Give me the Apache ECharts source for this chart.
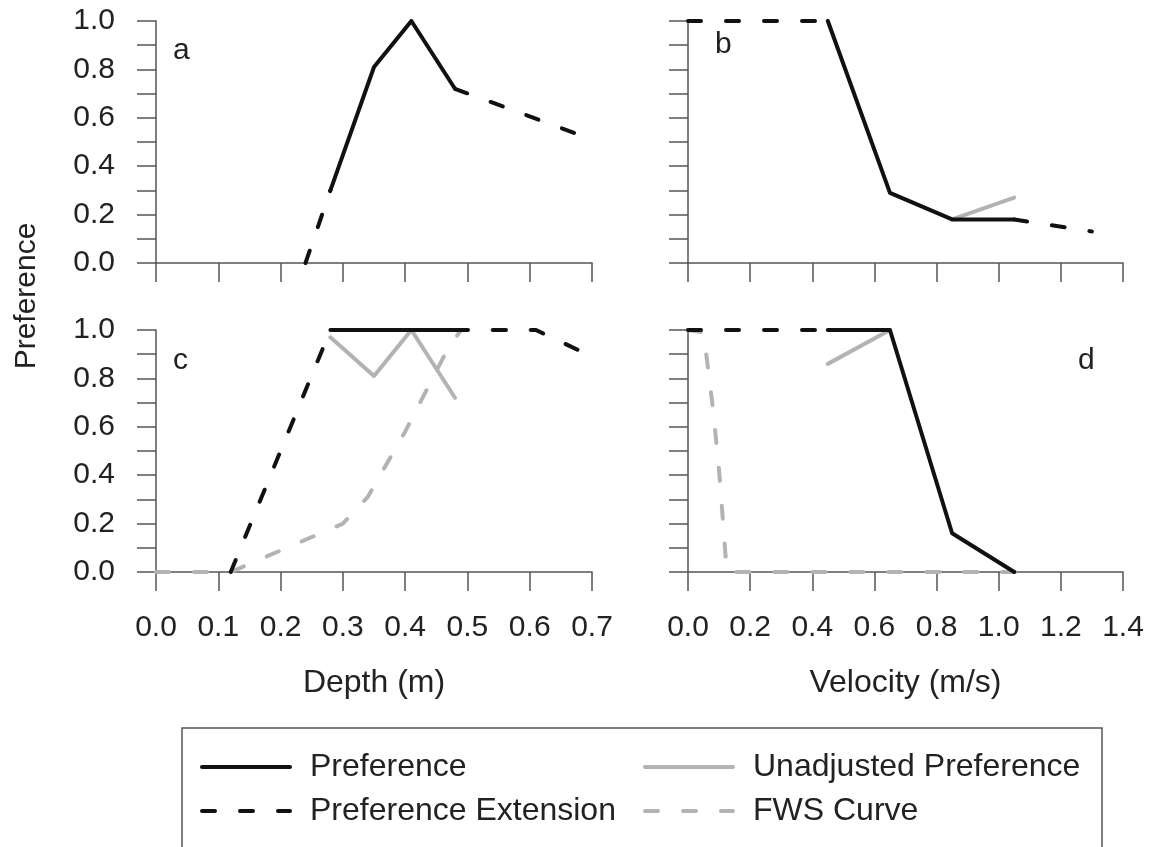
<!DOCTYPE html>
<html>
<head>
<meta charset="utf-8">
<title>Preference curves</title>
<script src="https://cdn.jsdelivr.net/npm/echarts@6/dist/echarts.min.js"></script>
<style>
  html, body { margin: 0; padding: 0; background: #fff; }
  #chart { width: 1151px; height: 847px; }
</style>
</head>
<body>
<div id="chart"></div>
<script>
// values, [x, preference]
// a: depth, habitat preference
var aPref = [[0.28, 0.30], [0.35, 0.81], [0.41, 1.0], [0.48, 0.72]];
var aExtLow = [[0.24, 0], [0.28, 0.30]];
var aExtHigh = [[0.48, 0.72], [0.70, 0.51]];
// b: velocity, habitat preference
var bExtLow = [[0, 1.0], [0.45, 1.0]];
var bPref = [[0.45, 1.0], [0.65, 0.29], [0.85, 0.18], [1.05, 0.18]];
var bExtHigh = [[1.05, 0.18], [1.30, 0.13]];
var bUnadj = [[0.85, 0.18], [1.05, 0.27]];
// c: depth, adjusted preference
var cExtLow = [[0.12, 0], [0.28, 1.0]];
var cPref = [[0.28, 1.0], [0.48, 1.0]];
var cExtHigh = [[0.48, 1.0], [0.61, 1.0], [0.70, 0.89]];
var cUnadj = [[0.28, 0.97], [0.35, 0.81], [0.41, 1.0], [0.48, 0.72]];
var cFws = [[0, 0], [0.12, 0], [0.30, 0.20], [0.34, 0.31], [0.40, 0.58], [0.47, 0.93], [0.49, 1.0], [0.61, 1.0], [0.70, 0.89]];
// d: velocity, adjusted preference
var dExtLow = [[0, 1.0], [0.45, 1.0]];
var dPref = [[0.45, 1.0], [0.65, 1.0], [0.85, 0.16], [1.05, 0]];
var dUnadj = [[0.45, 0.86], [0.65, 1.0]];
var dFws = [[0, 1.0], [0.05, 0.99], [0.08, 0.68], [0.10, 0.42], [0.125, 0], [1.10, 0]];

var panelLetters = ['a', 'b', 'c', 'd'];
var depthMax = 0.7, depthStep = 0.1;
var velMax = 1.4, velStep = 0.2;

var FONT = 'Liberation Sans, Arial, sans-serif';
var AXIS = '#555';
var BLACK = '#111';
var GREY = '#b3b3b3';
var DASH = [13, 25];

var chart = echarts.init(document.getElementById('chart'));

var grids = [
  {left: 156, top: 21, width: 436, height: 242},
  {left: 688, top: 21, width: 435, height: 242},
  {left: 156, top: 330, width: 436, height: 242},
  {left: 688, top: 330, width: 435, height: 242}
];

function xAxisFor(i) {
  var depth = i % 2 === 0;
  var bottom = i >= 2;
  return {
    type: 'value',
    gridIndex: i,
    min: 0,
    max: depth ? depthMax : velMax,
    interval: depth ? depthStep : velStep,
    splitLine: {show: false},
    axisLine: {onZero: false, lineStyle: {color: AXIS, width: 1.5}},
    axisTick: {length: 19, lineStyle: {color: AXIS, width: 1.5}},
    axisLabel: {
      show: bottom,
      margin: 41,
      fontSize: 30,
      fontFamily: FONT,
      color: '#222',
      formatter: function (v) { return v.toFixed(1); }
    },
    name: bottom ? (depth ? 'Depth (m)' : 'Velocity (m/s)') : '',
    nameLocation: 'middle',
    nameGap: 95,
    nameTextStyle: {fontSize: 32, fontFamily: FONT, color: '#222'}
  };
}

function yAxisFor(i) {
  return {
    type: 'value',
    gridIndex: i,
    min: 0,
    max: 1,
    interval: 0.1,
    splitLine: {show: false},
    axisLine: {lineStyle: {color: AXIS, width: 1.5}},
    axisTick: {length: 19, lineStyle: {color: AXIS, width: 1.5}},
    axisLabel: {
      show: i % 2 === 0,
      margin: 41,
      fontSize: 30,
      fontFamily: FONT,
      color: '#222',
      formatter: function (v) {
        var k = Math.round(v * 10);
        return k % 2 === 0 ? (k / 10).toFixed(1) : '';
      }
    }
  };
}

function line(name, data, panel, color, dashed, z) {
  return {
    type: 'line',
    name: name,
    xAxisIndex: panel,
    yAxisIndex: panel,
    data: data,
    symbol: 'none',
    z: z,
    lineStyle: {
      color: color,
      width: 4,
      type: dashed ? DASH : 'solid',
      cap: 'round',
      join: 'round'
    },
    itemStyle: {color: color}
  };
}

var series = [
  line('Preference', aPref, 0, BLACK, false, 5),
  line('Preference Extension', aExtLow, 0, BLACK, true, 5),
  line('Preference Extension', aExtHigh, 0, BLACK, true, 5),

  line('Unadjusted Preference', bUnadj, 1, GREY, false, 3),
  line('Preference Extension', bExtLow, 1, BLACK, true, 5),
  line('Preference', bPref, 1, BLACK, false, 5),
  line('Preference Extension', bExtHigh, 1, BLACK, true, 5),

  line('FWS Curve', cFws, 2, GREY, true, 2),
  line('Unadjusted Preference', cUnadj, 2, GREY, false, 3),
  line('Preference Extension', cExtLow, 2, BLACK, true, 5),
  line('Preference', cPref, 2, BLACK, false, 5),
  line('Preference Extension', cExtHigh, 2, BLACK, true, 5),

  line('FWS Curve', dFws, 3, GREY, true, 2),
  line('Unadjusted Preference', dUnadj, 3, GREY, false, 3),
  line('Preference Extension', dExtLow, 3, BLACK, true, 5),
  line('Preference', dPref, 3, BLACK, false, 5)
];

var legendBase = {
  orient: 'vertical',
  top: 751,
  padding: 0,
  itemGap: 12,
  itemWidth: 88,
  itemHeight: 14,
  selectedMode: false,
  itemStyle: {opacity: 0},
  lineStyle: {width: 4},
  textStyle: {fontSize: 32, fontFamily: FONT, color: '#222', padding: [0, 0, 0, 15]}
};

var letterPos = [[173, 36], [715, 30], [173, 346], [1078, 346]];

chart.setOption({
  animation: false,
  backgroundColor: '#fff',
  grid: grids,
  xAxis: [0, 1, 2, 3].map(xAxisFor),
  yAxis: [0, 1, 2, 3].map(yAxisFor),
  legend: [
    Object.assign({}, legendBase, {left: 200, data: ['Preference', 'Preference Extension']}),
    Object.assign({}, legendBase, {left: 643, data: ['Unadjusted Preference', 'FWS Curve']})
  ],
  series: series,
  graphic: [
    {
      type: 'text',
      x: 27, y: 296,
      rotation: Math.PI / 2,
      style: {text: 'Preference', fontSize: 30, fontFamily: FONT, fill: '#222', align: 'center', verticalAlign: 'middle'}
    },
    {
      type: 'rect',
      shape: {x: 182, y: 728, width: 920, height: 140},
      style: {fill: 'none', stroke: AXIS, lineWidth: 1.5}
    }
  ].concat(panelLetters.map(function (t, i) {
    return {
      type: 'text',
      x: letterPos[i][0], y: letterPos[i][1],
      style: {text: t, fontSize: 30, fontFamily: FONT, fill: '#222'}
    };
  }))
});
</script>
</body>
</html>
